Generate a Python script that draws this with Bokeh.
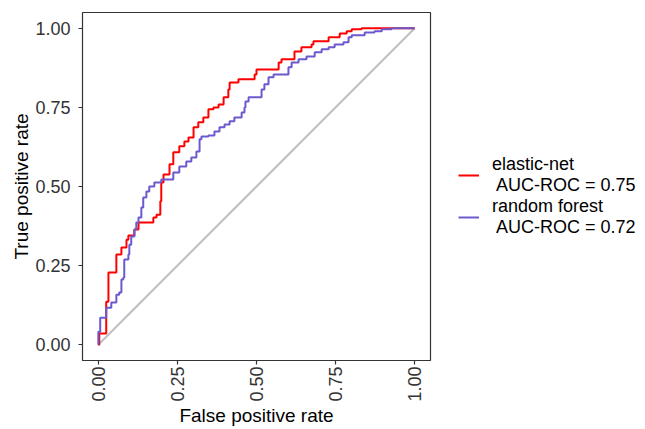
import math
from bokeh.plotting import figure
from bokeh.layouts import row
from bokeh.models import Legend, LegendItem
from bokeh.embed import file_html
from bokeh.resources import INLINE

# ROC curve of the elastic-net model
en_fpr = [0.000, 0.003, 0.003, 0.025, 0.025, 0.032, 0.057, 0.057, 0.073, 0.089, 0.095, 0.114,
          0.127, 0.174, 0.184, 0.196, 0.199, 0.206, 0.225, 0.237, 0.256, 0.272, 0.285, 0.301,
          0.316, 0.332, 0.348, 0.364, 0.380, 0.396, 0.411, 0.415, 0.443, 0.478, 0.494, 0.500,
          0.557, 0.570, 0.579, 0.611, 0.620, 0.642, 0.674, 0.680, 0.728, 0.763, 0.785, 0.801,
          0.832, 1.000]
en_tpr = [0.000, 0.016, 0.035, 0.035, 0.136, 0.228, 0.228, 0.285, 0.307, 0.332, 0.345, 0.364,
          0.386, 0.402, 0.411, 0.453, 0.513, 0.538, 0.570, 0.608, 0.627, 0.642, 0.655, 0.687,
          0.703, 0.718, 0.744, 0.750, 0.759, 0.782, 0.807, 0.829, 0.839, 0.839, 0.854, 0.870,
          0.870, 0.892, 0.902, 0.902, 0.927, 0.940, 0.949, 0.959, 0.972, 0.984, 0.991, 0.997,
          1.000, 1.000]

# ROC curve of the random forest model
rf_fpr = [0.000, 0.000, 0.006, 0.006, 0.025, 0.041, 0.057, 0.066, 0.073, 0.079, 0.082, 0.095,
          0.098, 0.104, 0.114, 0.120, 0.127, 0.136, 0.142, 0.152, 0.161, 0.177, 0.199, 0.231,
          0.237, 0.256, 0.278, 0.294, 0.310, 0.320, 0.326, 0.348, 0.367, 0.383, 0.399, 0.415,
          0.430, 0.453, 0.462, 0.465, 0.475, 0.509, 0.516, 0.525, 0.538, 0.554, 0.579, 0.601,
          0.611, 0.633, 0.658, 0.684, 0.706, 0.728, 0.747, 0.775, 0.791, 0.801, 0.842, 0.873,
          0.896, 0.927, 1.000]
rf_tpr = [0.000, 0.041, 0.041, 0.085, 0.117, 0.133, 0.158, 0.165, 0.206, 0.212, 0.269, 0.285,
          0.316, 0.342, 0.364, 0.386, 0.402, 0.434, 0.465, 0.484, 0.500, 0.513, 0.522, 0.522,
          0.544, 0.563, 0.579, 0.592, 0.611, 0.649, 0.658, 0.661, 0.674, 0.687, 0.696, 0.706,
          0.718, 0.734, 0.750, 0.769, 0.782, 0.782, 0.807, 0.823, 0.845, 0.854, 0.854, 0.877,
          0.892, 0.902, 0.911, 0.924, 0.934, 0.940, 0.949, 0.956, 0.972, 0.978, 0.987, 0.991,
          0.997, 1.000, 1.000]

# chance line
chance_x = [0.0, 1.0]
chance_y = [0.0, 1.0]

series_labels = ["elastic-net\n AUC-ROC = 0.75", "random forest\n AUC-ROC = 0.72"]
series_colors = ["#FF0000", "#6A5ACD"]
tick_values = [0.0, 0.25, 0.5, 0.75, 1.0]
tick_labels = ["0.00", "0.25", "0.50", "0.75", "1.00"]
x_title = "False positive rate"
y_title = "True positive rate"

FONT = "Liberation Sans"
H = 428

p = figure(width=440, height=H, x_range=(-0.05, 1.05), y_range=(-0.05, 1.05),
           output_backend="svg", toolbar_location=None,
           min_border_left=82, min_border_right=10, min_border_top=12, min_border_bottom=66)

p.xgrid.visible = False
p.ygrid.visible = False
p.outline_line_color = "#333333"
p.outline_line_width = 1.2
p.background_fill_color = "white"
p.border_fill_color = "white"

p.line(chance_x, chance_y, line_color="#BEBEBE", line_width=2)
p.step(en_fpr, en_tpr, mode="after", line_color=series_colors[0], line_width=2)
p.step(rf_fpr, rf_tpr, mode="after", line_color=series_colors[1], line_width=2)

for ax in (p.xaxis[0], p.yaxis[0]):
    ax.ticker = tick_values
    ax.major_label_overrides = {v: l for v, l in zip(tick_values, tick_labels)}
    ax.axis_line_color = None
    ax.major_tick_line_color = "#333333"
    ax.major_tick_line_width = 1.2
    ax.major_tick_out = 4
    ax.major_tick_in = 0
    ax.minor_tick_line_color = None
    ax.major_label_text_font = FONT
    ax.major_label_text_font_size = "18px"
    ax.major_label_text_color = "#333333"
    ax.axis_label_text_font = FONT
    ax.axis_label_text_font_size = "19px"
    ax.axis_label_text_font_style = "normal"
    ax.axis_label_text_color = "black"

p.xaxis.major_label_orientation = math.pi / 2
p.xaxis.major_label_standoff = 2
p.xaxis.axis_label = x_title
p.xaxis.axis_label_standoff = 0
p.yaxis.major_label_standoff = 8
p.yaxis.axis_label = y_title
p.yaxis.axis_label_standoff = 0

# legend panel (key renderers sit outside the visible range; only their swatches show)
lg = figure(width=200, height=H, x_range=(0, 1), y_range=(0, 1),
            x_axis_type=None, y_axis_type=None, output_backend="svg",
            toolbar_location=None, min_border=0)
lg.outline_line_color = None
lg.xgrid.visible = False
lg.ygrid.visible = False
lg.border_fill_color = "white"
keys = [lg.line(x=[-2, -1], y=[-2, -1], line_color=c, line_width=2) for c in series_colors]

legend = Legend(items=[LegendItem(label=lab, renderers=[r]) for lab, r in zip(series_labels, keys)],
                location=(18, 122), padding=0, margin=0, spacing=0,
                glyph_width=21, glyph_height=20, label_standoff=13,
                label_text_font=FONT, label_text_font_size="18px",
                label_text_line_height=1.1, label_text_color="black",
                border_line_color=None, background_fill_alpha=0)
lg.add_layout(legend)

page = row(p, lg)
open("out.html", "w").write(file_html(page, INLINE))
